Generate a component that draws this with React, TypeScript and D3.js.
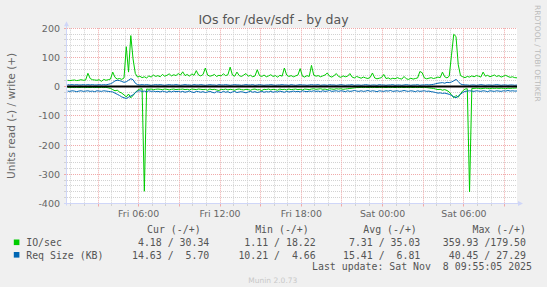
import React from 'react';
import * as d3 from 'd3';

const W = 547;
const H = 287;

const TITLE = 'IOs for /dev/sdf - by day';
const Y_LABEL = 'Units read (-) / write (+)';
const WATERMARK = 'RRDTOOL / TOBI OETIKER';
const FOOTER = 'Munin 2.0.73';
const LAST_UPDATE = 'Last update: Sat Nov  8 09:55:05 2025';

// time axis in hours since Fri 00:00
const VIEW_START_H = 0.708;
const VIEW_END_H = 33.918;
const SAMPLE_START_H = 0.75;
const SAMPLE_STEP_H = 1 / 6;

const Y_TICKS = [200, 100, 0, -100, -200, -300, -400];
const X_TICK_HOURS = [6, 12, 18, 24, 30];
const X_TICK_LABELS = ['Fri 06:00', 'Fri 12:00', 'Fri 18:00', 'Sat 00:00', 'Sat 06:00'];

// IO/sec write (+)
const IO_WRITE = [
  22, 21, 22, 23, 21, 22, 24, 22, 23, 46,
  28, 24, 23, 22, 24, 18.22, 25, 22, 24, 26,
  50, 32, 26, 28, 25, 30, 137, 50, 175, 95,
  45, 33, 36, 31, 34, 30, 37, 33, 40, 35,
  38, 34, 42, 36, 39, 44, 37, 41, 38, 45,
  40, 51, 38, 42, 36, 44, 39, 55, 40, 37,
  42, 64, 40, 36, 38, 42, 35, 39, 37, 44,
  38, 41, 67, 40, 36, 50, 38, 35, 40, 45,
  36, 39, 34, 37, 58, 38, 35, 40, 34, 37,
  41, 35, 38, 33, 39, 36, 64, 40, 35, 38,
  34, 37, 40, 62, 36, 33, 38, 35, 73, 40,
  36, 38, 34, 37, 40, 47, 36, 33, 38, 45,
  35, 32, 37, 34, 36, 45, 33, 30, 35, 32,
  29, 33, 30, 28, 32, 47, 30, 27, 29, 31,
  42, 28, 30, 26, 29, 27, 31, 28, 26, 35,
  27, 25, 29, 26, 28, 30, 52, 48, 30, 27,
  29, 31, 28, 30, 33, 31, 50, 34, 30, 36,
  108, 179.5, 172, 75, 38, 34, 31, 35, 33, 37,
  34, 38, 36, 33, 50, 36, 39, 34, 37, 40,
  35, 38, 33, 36, 39, 35, 32, 34, 31, 30.34,
];

// IO/sec read (-)
const IO_READ = [
  2, 3, 2, 3, 2, 3, 2, 2, 3, 2,
  3, 2, 3, 2, 3, 2, 3, 2, 4, 6,
  10, 14, 12, 18, 22, 28, 35, 25, 38, 30,
  20, 12, 8, 7, 358, 8, 9, 8, 10, 9,
  8, 9, 10, 8, 9, 11, 9, 8, 10, 9,
  9, 8, 10, 9, 11, 8, 9, 10, 8, 9,
  10, 9, 12, 8, 10, 9, 11, 13, 9, 10,
  8, 11, 9, 10, 12, 9, 8, 10, 11, 9,
  10, 12, 9, 8, 11, 10, 13, 9, 10, 8,
  11, 9, 10, 12, 8, 10, 9, 11, 8, 10,
  9, 8, 10, 9, 11, 8, 9, 10, 8, 7,
  9, 8, 7, 9, 8, 10, 7, 8, 9, 7,
  8, 7, 9, 8, 7, 6, 5, 4, 3, 3,
  2, 3, 2, 3, 2, 3, 2, 3, 2, 3,
  2, 3, 2, 3, 2, 3, 2, 3, 2, 3,
  2, 3, 2, 3, 2, 3, 2, 3, 2, 3,
  4, 5, 6, 8, 10, 9, 12, 10, 13, 18,
  28, 38, 30, 36, 24, 14, 8, 7, 359.93, 6,
  6, 5, 6, 7, 6, 5, 6, 7, 5, 6,
  5, 6, 5, 6, 7, 5, 6, 5, 5, 4.18,
];

// Req Size (KB) write (+)
const REQ_WRITE = [
  7, 6, 7, 6, 7, 6, 6, 7, 6, 7,
  6, 7, 6, 6, 7, 6, 7, 6, 8, 10,
  14, 20, 22, 21, 18, 15, 17, 22, 27.29, 24,
  12, 7, 6, 7, 6, 7, 6, 5, 6, 7,
  6, 7, 6, 5, 6, 7, 6, 6, 7, 6,
  5, 6, 7, 6, 6, 5, 7, 6, 6, 7,
  6, 5, 6, 7, 6, 6, 5, 7, 6, 6,
  7, 6, 5, 6, 7, 6, 6, 5, 6, 7,
  6, 6, 7, 5, 6, 7, 6, 5, 6, 6,
  7, 6, 5, 6, 6, 7, 6, 6, 5, 7,
  6, 5, 6, 7, 6, 6, 5, 6, 7, 6,
  6, 7, 5, 6, 6, 5, 7, 6, 6, 5,
  6, 7, 6, 5, 6, 6, 7, 5, 6, 6,
  5, 6, 7, 6, 5, 6, 6, 5, 7, 6,
  6, 5, 6, 6, 7, 5, 6, 6, 5, 6,
  7, 6, 5, 6, 6, 7, 5, 6, 6, 7,
  6, 7, 8, 10, 12, 13, 14, 12, 15, 14,
  16, 20, 25, 18, 9, 7, 6, 6, 5, 6,
  6, 5, 6, 7, 6, 5, 6, 6, 5, 6,
  7, 6, 5, 6, 6, 5, 6, 6, 5, 5.7,
];

// Req Size (KB) read (-)
const REQ_READ = [
  15, 16, 14, 15, 17, 15, 14, 16, 15, 14,
  16, 15, 17, 14, 15, 16, 14, 15, 16, 17,
  18, 22, 26, 30, 35, 38, 40.45, 36, 32, 28,
  20, 15, 14, 16, 15, 17, 14, 16, 15, 17,
  16, 18, 15, 17, 19, 16, 18, 15, 17, 16,
  18, 16, 19, 17, 15, 18, 20, 16, 17, 19,
  17, 20, 18, 16, 19, 21, 17, 18, 20, 16,
  19, 17, 21, 18, 16, 20, 18, 17, 19, 21,
  18, 16, 19, 17, 20, 18, 16, 19, 17, 18,
  16, 19, 17, 18, 15, 17, 19, 16, 18, 17,
  15, 17, 16, 18, 14, 16, 17, 15, 16, 14,
  16, 15, 17, 14, 16, 15, 13, 16, 15, 14,
  16, 14, 15, 17, 14, 16, 15, 13, 15, 16,
  14, 16, 15, 13, 16, 14, 15, 17, 14, 15,
  16, 14, 15, 13, 16, 15, 14, 16, 15, 13,
  15, 16, 14, 15, 17, 14, 16, 15, 14, 16,
  15, 17, 18, 20, 22, 21, 23, 22, 24, 26,
  30, 34, 38, 32, 26, 20, 16, 15, 14, 15,
  16, 14, 15, 16, 14, 15, 17, 14, 15, 16,
  14, 15, 16, 14, 15, 13, 15, 14, 15, 14.63,
];

const LEGEND_HEADERS = ['Cur (-/+)', 'Min (-/+)', 'Avg (-/+)', 'Max (-/+)'];
const LEGEND_SERIES = ['IO/sec', 'Req Size (KB)'];
const LEGEND_COLORS = ['#00CC00', '#0066B3'];
const IO_STATS = ['4.18 / 30.34', '1.11 / 18.22', '7.31 / 35.03', '359.93 /179.50'];
const REQ_STATS = ['14.63 /  5.70', '10.21 /  4.66', '15.41 /  6.81', '40.45 / 27.29'];

// layout
const PL = 67;
const PR = 517;
const PT = 28.3;
const PB = 203.5;
const HEADER_END = [200.6, 308.7, 416.8, 526];
const VALUE_END = [209.3, 315.7, 420.3, 526];

const SANS = '"DejaVu Sans", sans-serif';
const MONO = '"DejaVu Sans Mono", monospace';
const AXIS_COLOR = '#CFD6F8';
const GRID_MINOR = '#D2D2D2';
const GRID_MAJOR = '#F0AAAA';

const snap = (v: number) => Math.floor(v) + 0.5;

export default function App() {
  const x = d3.scaleLinear().domain([VIEW_START_H, VIEW_END_H]).range([PL, PR]);
  const y = d3.scaleLinear().domain([-400, 200]).range([PB, PT]);

  const mkLine = (sign: number) =>
    d3
      .line<number>()
      .x((_, i) => x(SAMPLE_START_H + i * SAMPLE_STEP_H))
      .y((d) => y(sign * d));

  const up = mkLine(1);
  const down = mkLine(-1);

  const minorH = d3.range(-400, 201, 20).filter((v) => v % 100 !== 0);
  const majorH = d3.range(-400, 201, 100);
  const minorV = d3.range(1, 34).filter((h) => h % 3 !== 0);
  const majorV = d3.range(3, 34, 3);

  const legendRows = [IO_STATS, REQ_STATS];
  const rowBase = [246, 258.5];

  return (
    <svg
      width={W}
      height={H}
      style={{ position: 'absolute', left: 0, top: 0, display: 'block' }}
      xmlns="http://www.w3.org/2000/svg"
    >
      <rect x={0} y={0} width={W} height={H} fill="#F0F0F0" />
      <rect x={PL} y={PT - 0.3} width={PR - PL} height={PB - PT + 0.3} fill="#FFFFFF" />

      {/* grid */}
      {minorH.map((v) => (
        <g key={'mh' + v}>
          <line x1={PL} x2={PR} y1={snap(y(v))} y2={snap(y(v))} stroke={GRID_MINOR} strokeDasharray="1 1" />
          <line x1={PL - 3} x2={PL} y1={snap(y(v))} y2={snap(y(v))} stroke={GRID_MINOR} />
        </g>
      ))}
      {minorV.map((h) => (
        <g key={'mv' + h}>
          <line x1={snap(x(h))} x2={snap(x(h))} y1={PT} y2={PB} stroke={GRID_MINOR} strokeDasharray="1 1" />
          <line x1={snap(x(h))} x2={snap(x(h))} y1={PB} y2={PB + 2.5} stroke={GRID_MINOR} />
        </g>
      ))}
      {majorH.map((v) => (
        <g key={'Mh' + v}>
          <line x1={PL} x2={PR} y1={snap(y(v))} y2={snap(y(v))} stroke={GRID_MAJOR} strokeDasharray="1 1" />
          <line x1={PL - 3} x2={PL} y1={snap(y(v))} y2={snap(y(v))} stroke={GRID_MAJOR} />
        </g>
      ))}
      {majorV.map((h) => (
        <g key={'Mv' + h}>
          <line x1={snap(x(h))} x2={snap(x(h))} y1={PT} y2={PB} stroke={GRID_MAJOR} strokeDasharray="1 1" />
          <line x1={snap(x(h))} x2={snap(x(h))} y1={PB} y2={PB + 3} stroke={GRID_MAJOR} />
        </g>
      ))}

      {/* axes */}
      <line x1={PL - 0.5} x2={PL - 0.5} y1={PB + 2} y2={PT - 3} stroke={AXIS_COLOR} />
      <path d={`M${PL - 3},${PT - 2} L${PL + 2},${PT - 2} L${PL - 0.5},${PT - 7} Z`} fill={AXIS_COLOR} />
      <line x1={PL - 3} x2={PR + 2} y1={snap(y(-400))} y2={snap(y(-400))} stroke={AXIS_COLOR} />
      <path
        d={`M${PR + 1},${snap(y(-400)) - 2.5} L${PR + 1},${snap(y(-400)) + 2.5} L${PR + 6},${snap(y(-400))} Z`}
        fill={AXIS_COLOR}
      />

      {/* data */}
      <path d={down(IO_READ) || ''} fill="none" stroke="#00CC00" strokeWidth={1} />
      <path d={up(IO_WRITE) || ''} fill="none" stroke="#00CC00" strokeWidth={1} />
      <path d={down(REQ_READ) || ''} fill="none" stroke="#0066B3" strokeWidth={1} />
      <path d={up(REQ_WRITE) || ''} fill="none" stroke="#0066B3" strokeWidth={1} />
      <line x1={PL} x2={PR} y1={86.5} y2={86.5} stroke="#000000" strokeWidth={2} />

      {/* y tick labels */}
      {Y_TICKS.map((v) => (
        <text key={'yt' + v} x={60} y={y(v) + 3.4} textAnchor="end" fontFamily={SANS} fontSize={9.5} fill="#666666">
          {v}
        </text>
      ))}
      {/* x tick labels */}
      {X_TICK_HOURS.map((h, i) => (
        <text key={'xt' + h} x={x(h)} y={217.2} textAnchor="middle" fontFamily={SANS} fontSize={9.4} fill="#666666">
          {X_TICK_LABELS[i]}
        </text>
      ))}

      {/* title */}
      <text x={W / 2} y={24} textAnchor="middle" fontFamily={SANS} fontSize={12.5} fill="#555555">
        {TITLE}
      </text>
      {/* y label */}
      <text
        transform={`translate(14.5, ${(PT + PB) / 2}) rotate(-90)`}
        textAnchor="middle"
        fontFamily={SANS}
        fontSize={10.5}
        fill="#666666"
      >
        {Y_LABEL}
      </text>
      {/* watermark */}
      <text transform="translate(534.8, 5) rotate(90)" fontFamily={SANS} fontSize={7.5} fill="#BBBBBB">
        {WATERMARK}
      </text>

      {/* legend */}
      {LEGEND_HEADERS.map((t, i) => (
        <text
          key={'lh' + i}
          x={HEADER_END[i]}
          y={232.6}
          textAnchor="end"
          fontFamily={MONO}
          fontSize={9.9}
          fill="#555555"
          style={{ whiteSpace: 'pre' }}
        >
          {t}
        </text>
      ))}
      {LEGEND_SERIES.map((name, r) => (
        <g key={'ls' + r}>
          <rect x={13.8} y={rowBase[r] - 6.5} width={5.6} height={5.6} fill={LEGEND_COLORS[r]} />
          <text x={26.2} y={rowBase[r]} fontFamily={MONO} fontSize={9.9} fill="#555555" style={{ whiteSpace: 'pre' }}>
            {name}
          </text>
          {legendRows[r].map((s, c) => (
            <text
              key={'lv' + r + c}
              x={VALUE_END[c]}
              y={rowBase[r]}
              textAnchor="end"
              fontFamily={MONO}
              fontSize={9.9}
              fill="#555555"
              style={{ whiteSpace: 'pre' }}
            >
              {s}
            </text>
          ))}
        </g>
      ))}
      <text x={532} y={270.3} textAnchor="end" fontFamily={MONO} fontSize={9.9} fill="#555555" style={{ whiteSpace: 'pre' }}>
        {LAST_UPDATE}
      </text>
      <text x={272.8} y={282.7} textAnchor="middle" fontFamily={SANS} fontSize={7.5} fill="#C8C8C8">
        {FOOTER}
      </text>
    </svg>
  );
}
